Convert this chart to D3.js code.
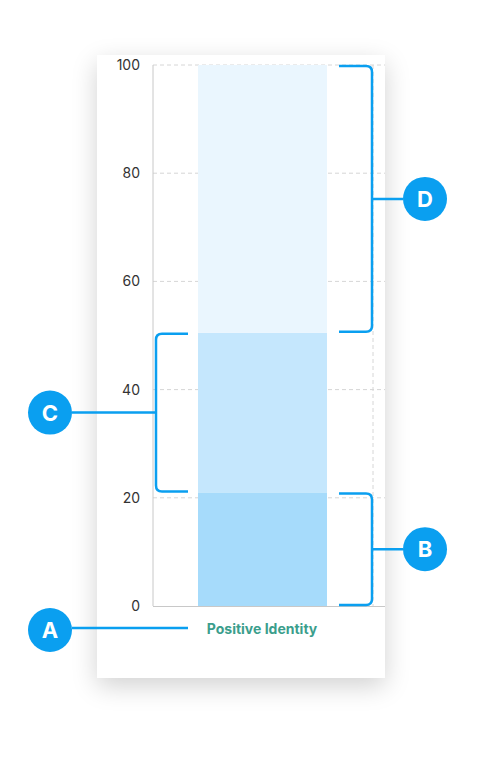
<!doctype html>
<html><head><meta charset="utf-8">
<script src="https://cdn.jsdelivr.net/npm/d3@7"></script>
<style>
body{margin:0;background:#fff;font-family:Inter,"Noto Sans",sans-serif}
#card{position:absolute;left:97px;top:55px;width:288px;height:623px;background:#fff;box-shadow:0 8px 24px rgba(0,0,0,0.18)}
svg{position:absolute;left:0;top:0}
</style></head>
<body><div id="card"></div><svg id="c" width="484" height="757"></svg>
<script>
const category = "Positive Identity";
const segments = [0, 21, 50.5, 100];
const segColors = ["#a6dbfb", "#c5e7fd", "#eaf6fe"];
const ticks = [0, 20, 40, 60, 80, 100];
const brackets = [
  {label: "B", from: 0, to: 21, side: "right"},
  {label: "C", from: 21, to: 50.5, side: "left"},
  {label: "D", from: 50.5, to: 100, side: "right"}
];

const svg = d3.select("#c");
const y = d3.scaleLinear().domain([0, 100]).range([606, 65]);
const x0 = 153, x1 = 385;
const blue = "#0a9ff0";

// grid
svg.append("g").selectAll("line").data(ticks.filter(t => t > 0)).join("line")
  .attr("x1", x0).attr("x2", x1).attr("y1", d => y(d)).attr("y2", d => y(d))
  .attr("stroke", "#d6d6d6").attr("stroke-dasharray", "4,3");
svg.append("line").attr("x1", 373).attr("x2", 373).attr("y1", y(100)).attr("y2", y(0))
  .attr("stroke", "#d6d6d6").attr("stroke-dasharray", "4,3");

// bars
svg.append("g").selectAll("rect").data(segColors).join("rect")
  .attr("x", 198).attr("width", 129)
  .attr("y", (d, i) => y(segments[i + 1])).attr("height", (d, i) => y(segments[i]) - y(segments[i + 1]))
  .attr("fill", d => d);

// axes
svg.append("line").attr("x1", x0).attr("x2", x0).attr("y1", y(100)).attr("y2", y(0)).attr("stroke", "#c8c8c8");
svg.append("line").attr("x1", x0).attr("x2", x1).attr("y1", y(0) + 0.5).attr("y2", y(0) + 0.5).attr("stroke", "#c8c8c8");
svg.append("g").selectAll("text").data(ticks).join("text")
  .attr("x", 140).attr("y", d => y(d)).attr("dy", "0.35em").attr("text-anchor", "end")
  .attr("font-size", 14).attr("fill", "#333").text(d => d);

svg.append("text").attr("x", 262).attr("y", 629).attr("dy", "0.35em").attr("text-anchor", "middle")
  .attr("font-size", 14).attr("font-weight", 700).attr("fill", "#3b9e8c").text(category);

// brackets
function badge(cx, cy, t) {
  svg.append("circle").attr("cx", cx).attr("cy", cy).attr("r", 22).attr("fill", blue);
  svg.append("text").attr("x", cx).attr("y", cy).attr("dy", "0.36em").attr("text-anchor", "middle")
    .attr("font-size", 22).attr("font-weight", 700).attr("fill", "#fff").text(t);
}
brackets.forEach(b => {
  const ya = y(b.to) + 1, yb = y(b.from) - 1, ym = (ya + yb) / 2, r = 6;
  let p, cx;
  if (b.side === "right") {
    const xs = 339, xe = 372;
    p = `M${xs},${ya}H${xe - r}Q${xe},${ya} ${xe},${ya + r}V${yb - r}Q${xe},${yb} ${xe - r},${yb}H${xs}M${xe},${ym}H403`;
    cx = 425;
  } else {
    const xs = 188, xe = 156;
    p = `M${xs},${ya}H${xe + r}Q${xe},${ya} ${xe},${ya + r}V${yb - r}Q${xe},${yb} ${xe + r},${yb}H${xs}M${xe},${ym}H72`;
    cx = 50;
  }
  svg.append("path").attr("d", p).attr("fill", "none").attr("stroke", blue).attr("stroke-width", 2.5);
  badge(cx, ym, b.label);
});
svg.append("line").attr("x1", 72).attr("x2", 188).attr("y1", 628).attr("y2", 628).attr("stroke", blue).attr("stroke-width", 2.5);
badge(50, 630, "A");
</script></body></html>
